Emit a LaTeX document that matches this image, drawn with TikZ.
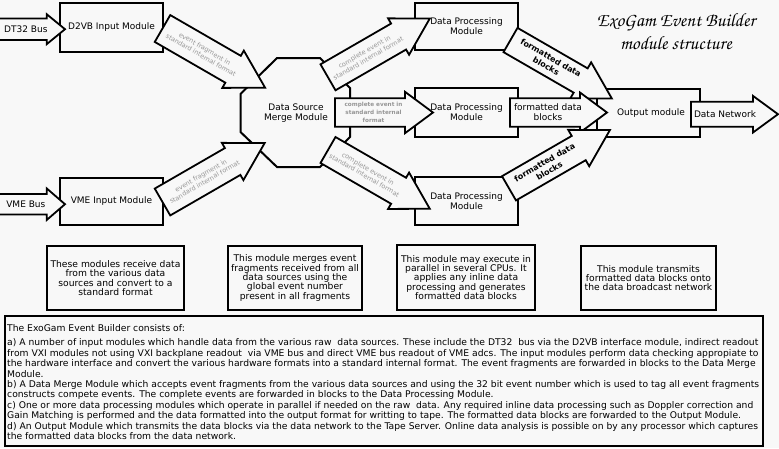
\documentclass[tikz,border=0pt]{standalone}
\usepackage{fontspec}
\setmainfont{DejaVu Sans}
\usetikzlibrary{calc}
\definecolor{bg}{RGB}{248,248,248}
\definecolor{lgray}{RGB}{150,150,150}
\newcommand{\farrow}[8]{%
  \begin{scope}[shift={(#2,#3)},rotate=#4]
    \draw[fatarr] (0,-#6) -- ({#5-#8},-#6) -- ({#5-#8},-#7) -- (#5,0) -- ({#5-#8},#7) -- ({#5-#8},#6) -- (0,#6) -- cycle;
    \coordinate (#1) at ({(#5-#8)/2},0);
  \end{scope}}
\tikzset{
  box/.style={draw, line width=2pt, fill=bg, inner sep=0pt, align=center, font=\fontsize{9}{10}\selectfont},
  fatarr/.style={draw, line width=1.8pt, fill=bg, line join=miter},
  lbl/.style={inner sep=0pt, align=center, font=\fontsize{9}{10}\selectfont},
  gtxt/.style={inner sep=0pt, align=center, text=lgray, font=\fontsize{6.5}{7.5}\selectfont},
  gbtxt/.style={inner sep=0pt, align=center, text=lgray, font=\fontsize{5.7}{8}\selectfont\bfseries},
  btxt/.style={inner sep=0pt, align=center, font=\fontsize{8}{9.5}\selectfont\bfseries},
  desc/.style={draw, line width=2pt, fill=bg, inner sep=0pt, align=center, font=\fontsize{9.2}{9.3}\selectfont},
}
\begin{document}
\begin{tikzpicture}[x=1pt,y=-1pt]
\useasboundingbox (0,0) rectangle (779,448);
\fill[bg] (0,0) rectangle (779,448);

% module boxes
\node[box, minimum width=103pt, minimum height=49pt] (d2vb) at (111.5,27.5) {D2VB Input Module};
\node[box, minimum width=103pt, minimum height=47pt] (vme) at (111.5,201.5) {VME Input Module};
\node[box, minimum width=103pt, minimum height=47pt] (dpm1) at (466.5,26.5) {Data Processing\\Module};
\node[box, minimum width=103pt, minimum height=49pt] (dpm2) at (466.5,112.5) {Data Processing\\Module};
\node[box, minimum width=103pt, minimum height=48pt] (dpm3) at (466.5,201) {Data Processing\\Module};
\node[box, minimum width=103pt, minimum height=48pt] (out) at (648.5,113) {};
\node[lbl] (outt) at (651,113) {Output module};

% merge octagon
\draw[line width=2pt, fill=bg] (277,58) -- (320,58) -- (350,88) -- (350,137) -- (320,167) -- (277,167) -- (240.5,132) -- (240.5,94) -- cycle;
\node[lbl, font=\fontsize{9}{10.6}\selectfont] (merge) at (296,113) {Data Source\\Merge Module};

% input arrows
\farrow{a1}{-3}{29.2}{0}{68}{10.8}{15}{18.3}
\node[lbl] (a1t) at ($(a1)+(4,0)$) {DT32 Bus};
\farrow{a2}{-3}{204.2}{0}{68}{10.2}{15.8}{18.3}
\node[lbl] (a2t) at ($(a2)+(4,0)$) {VME Bus};

% input modules to merge
\farrow{a3}{162.5}{28.5}{-30}{118.5}{15.5}{21.5}{37}
\node[gtxt, rotate=-30] (a3t) at ($(a3)+(5.2,3)$) {event fragment in\\standard internal format};
\farrow{a4}{162.5}{202}{30}{118}{15.5}{21.5}{37}
\node[gtxt, rotate=30] (a4t) at ($(a4)+(5.2,-3)$) {event fragment in\\standard internal format};

% merge to processing
\farrow{a5}{328}{77.3}{30}{117.5}{15}{21}{36}
\node[gtxt, rotate=30] (a5t) at ($(a5)+(3,-1.7)$) {complete event in\\standard internal format};
\farrow{a6}{335}{112.5}{0}{98}{14.2}{20.7}{28}
\node[gbtxt] (a6t) at ($(a6)+(3.5,0)$) {complete event in\\standard internal\\format};
\farrow{a7}{328}{150}{-30}{117.5}{15}{21}{36}
\node[gtxt, rotate=-30] (a7t) at ($(a7)+(3,1.7)$) {complete event in\\standard internal format};

% processing to output
\farrow{a8}{510.5}{40}{-30}{117}{14}{21}{36}
\node[btxt, rotate=-30] (a8t) at ($(a8)+(3,1.7)$) {formatted data\\blocks};
\farrow{a9}{510}{112.5}{0}{97}{14.2}{20}{27}
\node[lbl] (a9t) at ($(a9)+(3,0)$) {formatted data\\blocks};
\farrow{a10}{509}{188.3}{30}{116.5}{14}{21}{36}
\node[btxt, rotate=30] (a10t) at ($(a10)+(3,-1.7)$) {formatted data\\blocks};

% output to network
\farrow{a11}{691}{114.2}{0}{87}{12.5}{18.3}{25}
\node[lbl] (a11t) at ($(a11)+(3,0)$) {Data Network};

% title
\node[inner sep=0pt, align=center, font={\fontencoding{OT1}\fontfamily{pzc}\fontseries{mb}\fontshape{it}\fontsize{19}{23}\selectfont}] (title) at (676,31) {ExoGam Event Builder\\module structure};

% description boxes
\node[desc, minimum width=137pt, minimum height=64pt] (d1) at (115.5,278) {These modules receive data\\from the various data\\sources and convert to a\\standard format};
\node[desc, minimum width=134pt, minimum height=64pt] (d2) at (295,278) {This module merges event\\fragments received from all\\data sources using the\\global event number\\present in all fragments};
\node[desc, minimum width=138pt, minimum height=65pt] (d3) at (466,277.5) {This module may execute in\\parallel in several CPUs. It\\applies any inline data\\processing and generates\\formatted data blocks};
\node[desc, minimum width=135pt, minimum height=64pt] (d4) at (648.5,278) {This module transmits\\formatted data blocks onto\\the data broadcast network};

% main text box
\node[draw, line width=2pt, fill=bg, minimum width=758pt, minimum height=130pt, inner sep=0pt] (info) at (384,381) {};
\node[anchor=north west, inner sep=0pt, align=left, font=\fontsize{9.2}{10.38}\selectfont] (infot) at (7,324.8) {The ExoGam Event Builder consists of:\\[3.6pt]
a) A number of input modules which handle data from the various raw\ \ data sources. These include the DT32\ \ bus via the D2VB interface module, indirect readout\\
from VXI modules not using VXI backplane readout\ \ via VME bus and direct VME bus readout of VME adcs. The input modules perform data checking appropiate to\\
the hardware interface and convert the various hardware formats into a standard internal format. The event fragments are forwarded in blocks to the Data Merge\\
Module.\\
b) A Data Merge Module which accepts event fragments from the various data sources and using the 32 bit event number which is used to tag all event fragments\\
constructs compete events. The complete events are forwarded in blocks to the Data Processing Module.\\
c) One or more data processing modules which operate in parallel if needed on the raw\ \ data. Any required inline data processing such as Doppler correction and\\
Gain Matching is performed and the data formatted into the output format for writting to tape. The formatted data blocks are forwarded to the Output Module.\\
d) An Output Module which transmits the data blocks via the data network to the Tape Server. Online data analysis is possible on by any processor which captures\\
the formatted data blocks from the data network.};
\end{tikzpicture}
\end{document}
